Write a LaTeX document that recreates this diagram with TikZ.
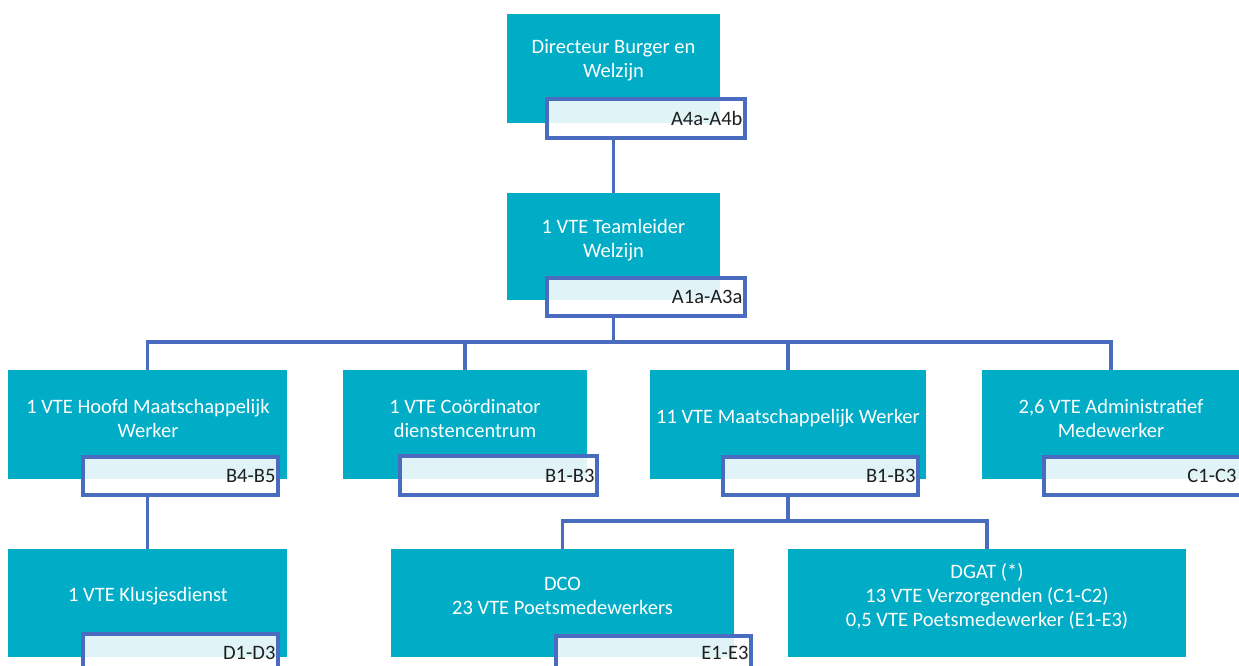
\documentclass[tikz,border=0pt]{standalone}
\usepackage{fontspec}
\setmainfont{Carlito}
\definecolor{teal}{HTML}{00ACC6}
\definecolor{linkblue}{HTML}{4A6CC0}
\definecolor{badgetext}{HTML}{1E1E1E}
\tikzset{
  orgbox/.style={rectangle, fill=teal, draw=none, inner sep=0pt},
  boxtxt/.style={text=white, align=center, inner sep=0pt, font=\fontsize{20.5}{24}\selectfont},
  badge/.style={rectangle, draw=linkblue, line width=3.2pt, fill=white, fill opacity=0.88, draw opacity=1, inner sep=0pt, minimum height=38pt},
  badgetxt/.style={text=badgetext, anchor=east, inner sep=0pt, font=\fontsize{20.5}{24}\selectfont},
  conn/.style={draw=linkblue, line width=3.2pt}
}
\begin{document}
\begin{tikzpicture}[x=1pt,y=-1pt]
\useasboundingbox (0,0) rectangle (1239,666);
\clip (0,0) rectangle (1239,666);
% boxes
\node[orgbox, minimum width=213, minimum height=109] (A) at (613.5,68.5) {};
\node[orgbox, minimum width=213, minimum height=107] (B) at (613.5,246.5) {};
\node[orgbox, minimum width=279, minimum height=109] (C1) at (147.5,424.5) {};
\node[orgbox, minimum width=244, minimum height=109] (C2) at (465,424.5) {};
\node[orgbox, minimum width=276, minimum height=109] (C3) at (788,424.5) {};
\node[orgbox, minimum width=258, minimum height=109] (C4) at (1111,424.5) {};
\node[orgbox, minimum width=279, minimum height=108] (D1) at (147.5,603) {};
\node[orgbox, minimum width=343, minimum height=108] (D2) at (562.5,603) {};
\node[orgbox, minimum width=398, minimum height=108] (D3) at (987,603) {};
% texts
\node[boxtxt] (tA) at (613.5,60) {Directeur Burger en\\Welzijn};
\node[boxtxt] (tB) at (613.5,240) {1 VTE Teamleider\\Welzijn};
\node[boxtxt] (tC1) at (148,418) {1 VTE Hoofd Maatschappelijk\\Werker};
\node[boxtxt] (tC2) at (465,418) {1 VTE Coördinator\\dienstencentrum};
\node[boxtxt] (tC3) at (788,418) {11 VTE Maatschappelijk Werker};
\node[boxtxt] (tC4) at (1111,418) {2,6 VTE Administratief\\Medewerker};
\node[boxtxt] (tD1) at (148,596) {1 VTE Klusjesdienst};
\node[boxtxt] (tD2) at (562.5,596) {DCO\\23 VTE Poetsmedewerkers};
\node[boxtxt] (tD3) at (987,596) {DGAT (*)\\13 VTE Verzorgenden (C1-C2)\\0,5 VTE Poetsmedewerker (E1-E3)};
% badges
\node[badge, minimum width=198, minimum height=39] (bA) at (646,118.5) {};
\node[badge, minimum width=198] (bB) at (646,297) {};
\node[badge, minimum width=195] (bC1) at (180.5,476) {};
\node[badge, minimum width=197, minimum height=39] (bC2) at (498.5,475.5) {};
\node[badge, minimum width=195] (bC3) at (820.5,476) {};
\node[badge, minimum width=197] (bC4) at (1142.5,476) {};
\node[badge, minimum width=195] (bD1) at (180.5,653) {};
\node[badge, minimum width=195] (bD2) at (653.5,655) {};
\node[badgetxt] (lA) at ([xshift=-4pt]bA.east) {A4a-A4b};
\node[badgetxt] (lB) at ([xshift=-4pt]bB.east) {A1a-A3a};
\node[badgetxt] (lC1) at ([xshift=-4pt]bC1.east) {B4-B5};
\node[badgetxt] (lC2) at ([xshift=-4pt]bC2.east) {B1-B3};
\node[badgetxt] (lC3) at ([xshift=-4pt]bC3.east) {B1-B3};
\node[badgetxt] (lC4) at ([xshift=-6pt]bC4.east) {C1-C3};
\node[badgetxt] (lD1) at ([xshift=-4pt]bD1.east) {D1-D3};
\node[badgetxt, yshift=2pt] (lD2) at ([xshift=-4pt]bD2.east) {E1-E3};
% connectors
\coordinate (bus) at (613.5,342);
\coordinate (bus2) at (788,521);
\draw[conn] (A.south |- bA.south) -- (B.north);
\draw[conn] (B.south |- bB.south) -- (bus);
\draw[conn] (C1.north) |- (bus) -| (C4.north);
\draw[conn] (C2.north) -- (C2.north |- bus);
\draw[conn] (C3.north) -- (C3.north |- bus);
\draw[conn] (C1.south |- bC1.south) -- (D1.north);
\draw[conn] (C3.south |- bC3.south) -- (bus2);
\draw[conn] (D2.north) |- (bus2) -| (D3.north);
\end{tikzpicture}
\end{document}
